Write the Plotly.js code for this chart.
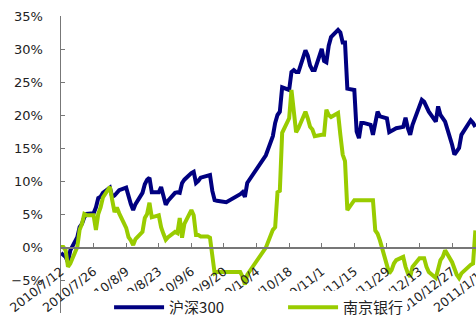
<!DOCTYPE html>
<html><head><meta charset="utf-8">
<script src="https://cdn.plot.ly/plotly-3.0.1.min.js"></script>
<style>html,body{margin:0;padding:0;overflow:hidden;background:#fff;width:476px;height:318px}#c{width:500px;height:318px}</style>
</head><body><div id="c"></div>
<script>
const seriesNames = ["沪深300", "南京银行"];
const dates = ["2010-07-12","2010-07-13","2010-07-14","2010-07-15","2010-07-16","2010-07-19","2010-07-20","2010-07-21","2010-07-22","2010-07-23",
"2010-07-26","2010-07-27","2010-07-28","2010-07-29","2010-07-30","2010-08-02","2010-08-03","2010-08-04","2010-08-05","2010-08-06",
"2010-08-09","2010-08-10","2010-08-11","2010-08-12","2010-08-13","2010-08-16","2010-08-17","2010-08-18","2010-08-19","2010-08-20",
"2010-08-23","2010-08-24","2010-08-25","2010-08-26","2010-08-27","2010-08-30","2010-08-31","2010-09-01","2010-09-02","2010-09-03",
"2010-09-06","2010-09-07","2010-09-08","2010-09-09","2010-09-10","2010-09-13","2010-09-14","2010-09-15","2010-09-16","2010-09-17",
"2010-09-20","2010-09-21","2010-09-27","2010-09-28","2010-09-29","2010-09-30","2010-10-08","2010-10-11","2010-10-12","2010-10-13",
"2010-10-14","2010-10-15","2010-10-18","2010-10-19","2010-10-20","2010-10-21","2010-10-22","2010-10-25","2010-10-26","2010-10-27",
"2010-10-28","2010-10-29","2010-11-01","2010-11-02","2010-11-03","2010-11-04","2010-11-05","2010-11-08","2010-11-09","2010-11-10",
"2010-11-11","2010-11-12","2010-11-15","2010-11-16","2010-11-17","2010-11-18","2010-11-19","2010-11-22","2010-11-23","2010-11-24",
"2010-11-25","2010-11-26","2010-11-29","2010-11-30","2010-12-01","2010-12-02","2010-12-03","2010-12-06","2010-12-07","2010-12-08",
"2010-12-09","2010-12-10","2010-12-13","2010-12-14","2010-12-15","2010-12-16","2010-12-17","2010-12-20","2010-12-21","2010-12-22",
"2010-12-23","2010-12-24","2010-12-27","2010-12-28","2010-12-29","2010-12-30","2010-12-31","2011-01-04","2011-01-05","2011-01-06"];
const hs300 = [-0.9,-1.2,-1.5,-2.3,-0.5,1.5,3.0,3.5,4.5,5.0,
5.1,6.0,7.4,7.6,8.2,9.0,7.6,7.8,8.2,8.6,
9.0,7.4,6.5,5.6,6.5,8.2,9.5,10.2,10.5,8.3,
8.3,9.1,7.5,6.4,7.0,8.2,8.3,8.2,9.7,10.2,
11.2,11.4,9.7,10.0,10.5,10.9,10.9,8.5,7.1,7.0,
6.8,6.8,8.0,8.3,7.6,9.7,13.9,16.8,18.8,20.0,
20.5,24.2,23.8,26.5,26.8,26.5,26.5,29.8,29.0,27.5,
26.8,26.8,30.0,28.2,28.0,30.5,31.8,32.9,32.5,31.0,
31.0,24.0,23.8,17.5,16.5,18.8,18.8,18.5,17.0,19.0,
20.5,19.8,19.5,17.4,17.6,17.8,18.0,18.2,19.6,18.0,
17.0,18.5,21.5,22.3,22.0,21.3,20.5,19.0,21.3,20.0,
19.5,19.0,15.5,14.0,14.5,15.0,17.0,19.2,18.8,18.2];
const njBank = [0,0,-0.5,-3.0,-2.5,0,2.6,3.5,5.0,4.8,
4.8,2.6,5.0,6.0,7.5,9.1,7.1,5.3,6.0,5.1,
2.9,1.5,1.0,0.3,1.2,2.3,4.4,5.0,6.7,4.5,
4.8,3.0,2.0,1.1,1.5,2.3,2.1,4.4,1.4,3.5,
5.6,4.8,1.8,1.8,1.6,1.6,1.4,-1.5,-4.0,-3.8,
-3.8,-3.8,-3.8,-4.5,-5.7,-4.2,-0.1,2.6,3.0,8.3,
8.5,17.3,19.5,23.8,21.0,17.4,18.0,20.5,19.5,18.2,
17.8,16.8,17.0,17.0,20.8,20.0,19.7,20.3,17.0,14.0,
13.0,5.6,7.1,7.1,7.1,7.1,7.1,7.1,7.1,2.5,
2.0,1.0,-2.5,-4.0,-3.5,-2.5,-2.0,-1.5,-3.0,-4.0,
-4.5,-3.0,-1.7,-1.7,-1.7,-3.0,-3.8,-4.7,-3.5,-2.0,
-1.5,-0.5,-2.3,-3.5,-4.2,-4.7,-4.0,-2.7,-2.5,2.5];

const pct = a => a.map(v => v / 100);
const traces = [
  {x: dates, y: pct(hs300), name: seriesNames[0], type: 'scatter', mode: 'lines',
   line: {color: '#000080', width: 4}},
  {x: dates, y: pct(njBank), name: seriesNames[1], type: 'scatter', mode: 'lines',
   line: {color: '#99CC00', width: 4}}
];
const layout = {
  width: 500, height: 318,
  margin: {l: 61, r: 6, t: 16, b: 5, autoexpand: false},
  paper_bgcolor: '#fff', plot_bgcolor: '#fff',
  font: {family: 'DejaVu Sans, Verdana, sans-serif', size: 12, color: '#222'},
  showlegend: true,
  legend: {orientation: 'h', x: 0.111, xanchor: 'left', y: 0.074, yanchor: 'top',
    bgcolor: 'rgba(0,0,0,0)', itemwidth: 50, entrywidth: 109,
    font: {family: 'Noto Sans CJK SC, DejaVu Sans, sans-serif', size: 15, color: '#222'},
    traceorder: 'normal'},
  shapes: [{type: 'rect', xref: 'paper', yref: 'paper', x0: 0.044, x1: 0.80, y0: -0.03, y1: 0.074,
    fillcolor: '#fff', line: {width: 0}, layer: 'above'}],
  xaxis: {type: 'date', range: ['2010-07-12', '2011-01-14'], tick0: '2010-07-12', dtick: 14 * 86400000,
    tickformat: '%Y/%-m/%-d', tickangle: -38, showgrid: false, zeroline: false,
    showline: true, linecolor: '#777', linewidth: 1.5, ticks: 'inside', ticklen: 4, tickcolor: '#777',
    anchor: 'free', position: 0.10 / 0.45, tickfont: {size: 12.5, color: '#222'}, ticklabelstandoff: 11},
  yaxis: {range: [-0.10, 0.35], dtick: 0.05, tickformat: '.0%', showgrid: false, zeroline: false,
    showline: true, linecolor: '#777', linewidth: 1.5, ticks: 'inside', ticklen: 4, tickcolor: '#777',
    tickfont: {size: 13, color: '#222'}, ticklabelstandoff: 14}
};
Plotly.newPlot('c', traces, layout, {displayModeBar: false, staticPlot: true});
</script></body></html>
